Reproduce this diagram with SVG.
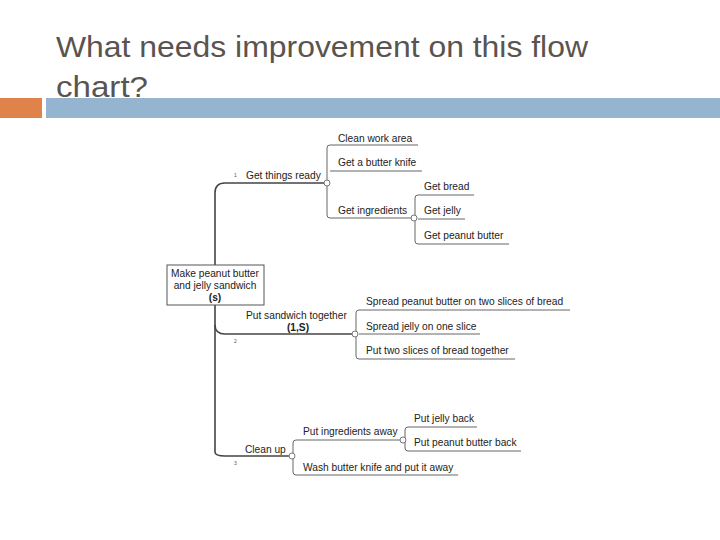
<svg xmlns="http://www.w3.org/2000/svg" width="720" height="540" viewBox="0 0 720 540">
<style>
.t{font-family:"Liberation Sans",Arial,sans-serif;font-size:10.2px;fill:#222}
.b{font-weight:bold}
.n{font-family:"Liberation Sans",Arial,sans-serif;font-size:5px;fill:#555}
.l{fill:none;stroke:#666;stroke-width:1}
.m{fill:none;stroke:#444;stroke-width:1.6}
.c{fill:#fff;stroke:#777;stroke-width:1}
.h{font-family:"Liberation Sans",Arial,sans-serif;font-size:30px;fill:#5a5450}
</style>
<rect width="720" height="540" fill="#fff"/>
<g id="title">
<text class="h" x="56" y="57" textLength="532" lengthAdjust="spacingAndGlyphs">What needs improvement on this flow</text>
<text class="h" x="56" y="97" textLength="92" lengthAdjust="spacingAndGlyphs">chart?</text>
<rect x="0" y="98" width="42" height="20" fill="#e0834a"/>
<rect x="46" y="98" width="674" height="20" fill="#94b4d0"/>
</g>
<g id="connectors">
<path class="m" d="M215 265 V193 Q215 183 225 183 H327"/>
<path class="m" d="M215 305 V452 Q215 456 225 456 H292"/>
<path class="m" d="M215 325 Q215 334 225 334 H355"/>
<path class="l" d="M330 145 H418 M330 171 H422 M330 218 H413 M327 148 Q327 145 330 145 M327 215 Q327 218 330 218 M327 148 V215"/>
<path class="l" d="M415 198 Q415 195 418 195 H474 M418 219 H465 M415 198 V241 Q415 244 418 244 H509"/>
<path class="l" d="M356 313 Q356 310 359 310 H570 M359 334 H480 M356 313 V356 Q356 359 359 359 H515"/>
<path class="l" d="M293 443 Q293 440 296 440 H402 M293 443 V472 Q293 475 296 475 H458"/>
<path class="l" d="M405 430 Q405 427 408 427 H477 M405 430 V448 Q405 451 408 451 H521"/>
<circle class="c" cx="327" cy="183" r="3"/>
<circle class="c" cx="414" cy="218" r="3"/>
<circle class="c" cx="355" cy="334" r="3"/>
<circle class="c" cx="292" cy="456" r="3"/>
<circle class="c" cx="403" cy="440" r="3"/>
</g>
<g id="root">
<rect x="167" y="265" width="97" height="40" fill="#fff" stroke="#555"/>
<text class="t" x="215" y="277" text-anchor="middle">Make peanut butter</text>
<text class="t" x="215" y="289" text-anchor="middle">and jelly sandwich</text>
<text class="t b" x="215" y="301" text-anchor="middle">(s)</text>
</g>
<g id="n1"><text class="n" x="234" y="177">1</text><text class="t" x="246" y="179">Get things ready</text></g>
<g id="n11"><text class="t" x="338" y="142">Clean work area</text></g>
<g id="n12"><text class="t" x="338" y="166">Get a butter knife</text></g>
<g id="n13"><text class="t" x="338" y="214">Get ingredients</text></g>
<g id="n131"><text class="t" x="424" y="190">Get bread</text></g>
<g id="n132"><text class="t" x="424" y="214">Get jelly</text></g>
<g id="n133"><text class="t" x="424" y="239">Get peanut butter</text></g>
<g id="n2"><text class="t" x="246" y="319">Put sandwich together</text><text class="t b" x="298" y="331" text-anchor="middle">(1,S)</text><text class="n" x="234" y="343">2</text></g>
<g id="n21"><text class="t" x="366" y="305">Spread peanut butter on two slices of bread</text></g>
<g id="n22"><text class="t" x="366" y="330">Spread jelly on one slice</text></g>
<g id="n23"><text class="t" x="366" y="354">Put two slices of bread together</text></g>
<g id="n3"><text class="t" x="245" y="453">Clean up</text><text class="n" x="234" y="465">3</text></g>
<g id="n31"><text class="t" x="303" y="435">Put ingredients away</text></g>
<g id="n311"><text class="t" x="414" y="422">Put jelly back</text></g>
<g id="n312"><text class="t" x="414" y="446">Put peanut butter back</text></g>
<g id="n32"><text class="t" x="303" y="471">Wash butter knife and put it away</text></g>
</svg>
